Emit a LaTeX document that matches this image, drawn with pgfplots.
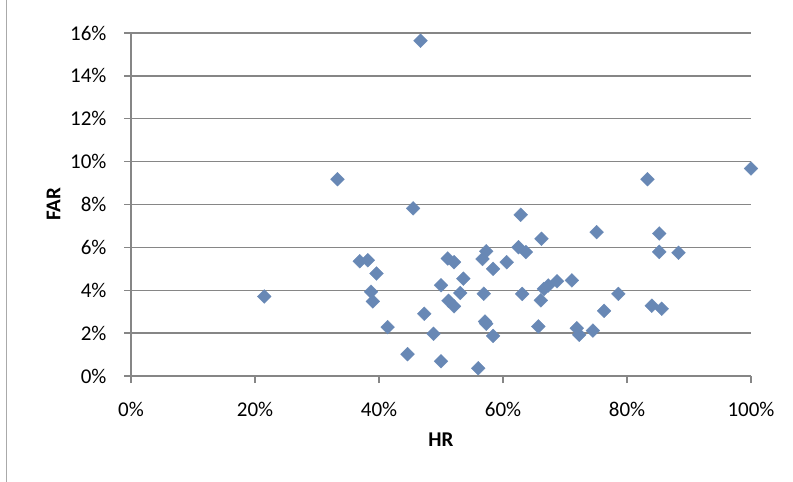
\documentclass[border=0pt]{standalone}
\usepackage{fontspec}
\setmainfont{Carlito}
\usepackage{pgfplots}
\pgfplotsset{compat=1.18}
\definecolor{mk}{RGB}{104,136,181}
\definecolor{gridc}{RGB}{134,134,134}
\begin{document}
\begin{tikzpicture}
\path[use as bounding box] (0,0) rectangle (793bp,482bp);
\draw[gridc!70, line width=1bp] (6.5bp,0) -- (6.5bp,482bp);
\begin{axis}[
  at={(131bp,106bp)}, anchor=south west,
  scale only axis, width=620bp, height=343bp,
  xmin=0, xmax=100, ymin=0, ymax=16,
  clip=false,
  axis x line*=bottom, axis y line*=left,
  axis line style={gridc, line width=1.3bp, -},
  xtick={0,20,...,100}, ytick={0,2,...,16},
  xticklabels={0\%,20\%,40\%,60\%,80\%,100\%},
  yticklabels={0\%,2\%,4\%,6\%,8\%,10\%,12\%,14\%,16\%},
  tick align=outside, major tick length=7bp,
  tick style={gridc, line width=1.3bp},
  ymajorgrids, major grid style={gridc, line width=1.3bp},
  ticklabel style={font=\fontsize{21bp}{25bp}\selectfont, text=black},
  xticklabel style={yshift=-16bp},
  yticklabel shift=14bp,
  every axis x label/.style={at={(axis description cs:0.5,-0.1866)}, anchor=center, font=\bfseries\fontsize{21bp}{25bp}\selectfont, text=black},
  every axis y label/.style={at={(axis description cs:-0.125,0.5)}, rotate=90, anchor=center, font=\bfseries\fontsize{21bp}{25bp}\selectfont, text=black},
  xlabel={HR}, ylabel={FAR},
]
\addplot[only marks, mark=square*, mark size=4.9bp, mark options={rotate=45, fill=mk, draw=mk, line width=0.3bp}]
table {
x y
21.5 3.71
33.3 9.18
36.9 5.35
38.2 5.40
39.6 4.78
38.7 3.93
39.0 3.48
41.4 2.28
44.6 1.02
45.5 7.82
46.7 15.64
47.3 2.90
48.8 1.97
50.0 0.69
50.0 4.23
51.1 5.48
52.1 5.31
51.2 3.51
52.1 3.25
53.1 3.87
53.6 4.54
56.0 0.36
56.9 3.84
57.1 2.54
57.3 2.44
58.4 1.87
57.3 5.82
56.7 5.46
58.4 5.00
60.6 5.31
62.5 6.01
63.7 5.78
62.85 7.52
66.2 6.40
63.1 3.83
65.7 2.31
66.1 3.53
66.6 4.06
67.3 4.22
68.7 4.42
71.1 4.46
71.9 2.23
72.3 1.92
74.5 2.12
75.1 6.71
76.3 3.04
78.6 3.83
83.3 9.18
85.2 6.65
85.2 5.79
88.3 5.75
84.0 3.28
85.6 3.14
100 9.68
};
\end{axis}
\end{tikzpicture}
\end{document}
